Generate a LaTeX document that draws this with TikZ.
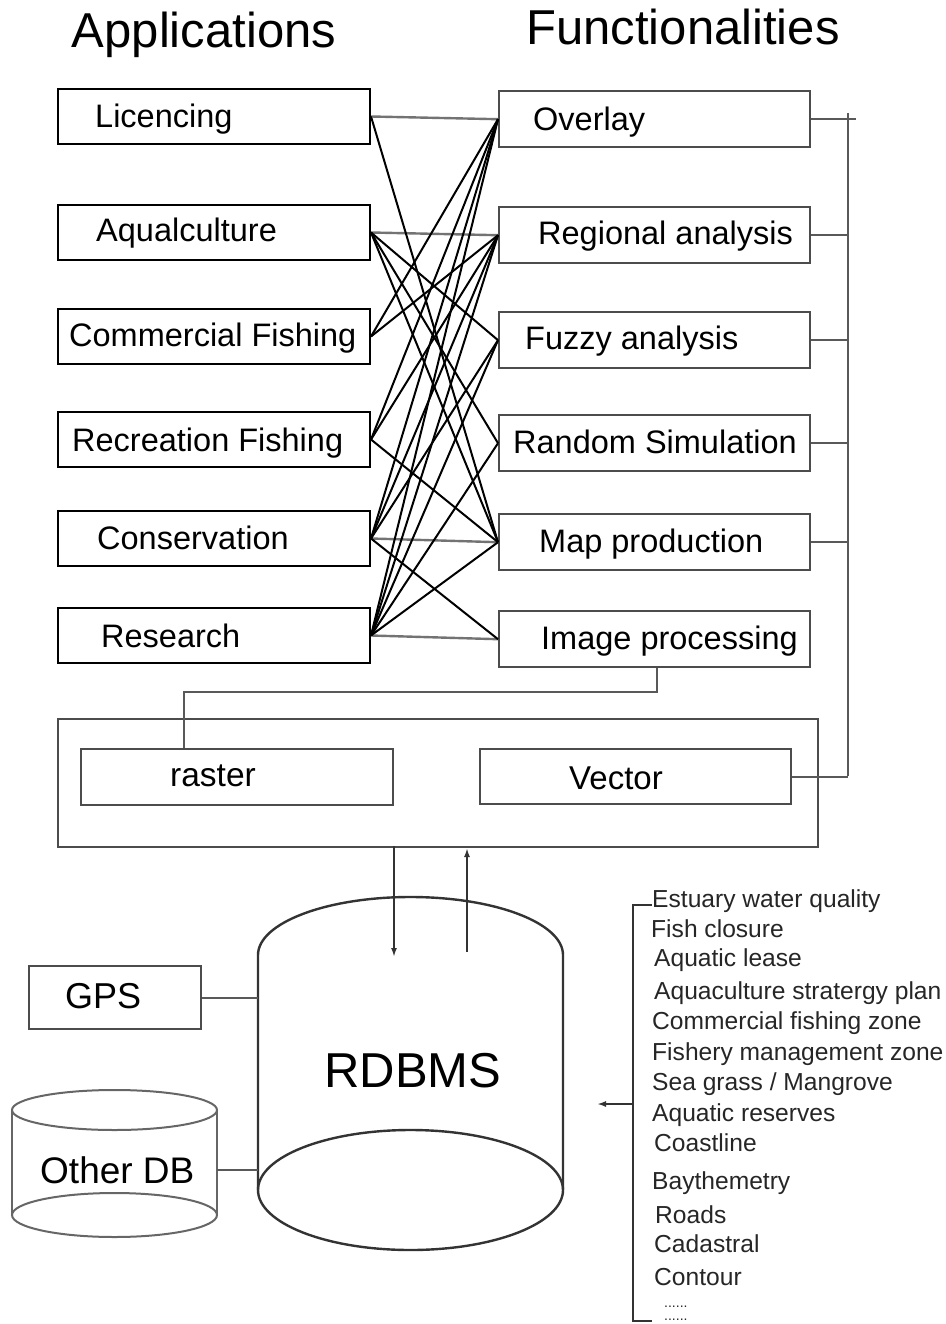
\documentclass[tikz,border=0pt]{standalone}
\usepackage{fontspec}
\setmainfont{Liberation Sans}
\usetikzlibrary{arrows.meta}
\begin{document}
\begin{tikzpicture}[x=1pt,y=-1pt,
  lbox/.style={draw=black, line width=2pt, minimum width=312pt, minimum height=55pt, anchor=north west, inner sep=0pt},
  rbox/.style={draw=black!70, line width=2.4pt, minimum width=311pt, minimum height=56pt, anchor=north west, inner sep=0pt},
  lbl/.style={anchor=base west, font=\fontsize{32.5}{32.5}\selectfont, inner sep=0pt},
  ttl/.style={anchor=base, font=\fontsize{49}{49}\selectfont, inner sep=0pt},
  itm/.style={anchor=base west, font=\fontsize{24.6}{24.6}\selectfont, inner sep=0pt, text=black!85},
  link/.style={line width=2pt, black},
  hlink/.style={line width=2.4pt, black!55},
  bus/.style={line width=2pt, black!65},
  arr/.style={line width=1.8pt, black!80, -{Latex[length=9pt,width=6pt]}}
]
\useasboundingbox (0,0) rectangle (945,1324);

% titles
\node[ttl] (tapp) at (204,48) {Applications};
\node[ttl] (tfun) at (683,45) {Functionalities};

% application boxes
\node[lbox] (lic) at (57,88) {};
\node[lbox] (aqu) at (57,204) {};
\node[lbox] (com) at (57,308) {};
\node[lbox] (rec) at (57,411) {};
\node[lbox] (con) at (57,510) {};
\node[lbox] (res) at (57,607) {};
\node[lbl] (tlic) at (95,128) {Licencing};
\node[lbl] (taqu) at (96,242) {Aqualculture};
\node[lbl] (tcom) at (69,346) {Commercial Fishing};
\node[lbl] (trec) at (72,451) {Recreation Fishing};
\node[lbl] (tcon) at (97,549) {Conservation};
\node[lbl] (tres) at (101,647) {Research};

% functionality boxes
\node[rbox] (ovl) at (498,90) {};
\node[rbox] (reg) at (498,206) {};
\node[rbox] (fuz) at (498,311) {};
\node[rbox] (ran) at (498,414) {};
\node[rbox] (map) at (498,513) {};
\node[rbox] (img) at (498,610) {};
\node[lbl] (tovl) at (533,131) {Overlay};
\node[lbl] (treg) at (538,245) {Regional analysis};
\node[lbl] (tfuz) at (525,349) {Fuzzy analysis};
\node[lbl] (tran) at (513,453) {Random Simulation};
\node[lbl] (tmap) at (539,552) {Map production};
\node[lbl] (timg) at (541,649) {Image processing};

% horizontal links
\draw[hlink] (lic.east) -- (ovl.west);
\draw[hlink] (aqu.east) -- (reg.west);
\draw[hlink] (con.east) -- (map.west);
\draw[hlink] (res.east) -- (img.west);

% crossing links
\draw[link] (lic.east) -- (map.west);
\draw[link] (aqu.east) -- (fuz.west);
\draw[link] (aqu.east) -- (ran.west);
\draw[link] (aqu.east) -- (map.west);
\draw[link] (com.east) -- (ovl.west);
\draw[link] (com.east) -- (reg.west);
\draw[link] (rec.east) -- (ovl.west);
\draw[link] (rec.east) -- (reg.west);
\draw[link] (rec.east) -- (map.west);
\draw[link] (con.east) -- (ovl.west);
\draw[link] (con.east) -- (reg.west);
\draw[link] (con.east) -- (fuz.west);
\draw[link] (con.east) -- (img.west);
\draw[link] (res.east) -- (ovl.west);
\draw[link] (res.east) -- (reg.west);
\draw[link] (res.east) -- (fuz.west);
\draw[link] (res.east) -- (ran.west);
\draw[link] (res.east) -- (map.west);

% data store
\node[draw=black!70, line width=2.4pt, minimum width=760pt, minimum height=128pt, anchor=north west, inner sep=0pt] (store) at (57,718) {};
\node[draw=black!70, line width=2.4pt, minimum width=312pt, minimum height=56pt, anchor=north west, inner sep=0pt] (ras) at (80,748) {};
\node[draw=black!70, line width=2.4pt, minimum width=311pt, minimum height=55pt, anchor=north west, inner sep=0pt] (vec) at (479,748) {};
\node[lbl, font=\fontsize{33.5}{33.5}\selectfont] (tras) at (170,786) {raster};
\node[lbl, font=\fontsize{33}{33}\selectfont] (tvec) at (569,789) {Vector};

% right bus
\coordinate (busT) at (848,113);
\coordinate (busE) at (856,118);
\coordinate (busB) at (848,776);
\draw[bus] (busT) -- (busB);
\draw[bus] (ovl.east) -- (ovl.east -| busE);
\draw[bus] (reg.east) -- (reg.east -| busT);
\draw[bus] (fuz.east) -- (fuz.east -| busT);
\draw[bus] (ran.east) -- (ran.east -| busT);
\draw[bus] (map.east) -- (map.east -| busT);
\draw[bus] (vec.east) -- (vec.east -| busT);

% image processing to raster
\coordinate (ipb) at (657,692);
\coordinate (rtop) at (184,748);
\draw[bus] (img.south -| ipb) -- (ipb) -- (ipb -| rtop) -- (rtop);

% arrows store <-> RDBMS
\coordinate (dA) at (394,846);
\coordinate (dB) at (394,957);
\coordinate (uA) at (467,952);
\coordinate (uB) at (467,848);
\draw[arr] (dA) -- (dB);
\draw[arr] (uA) -- (uB);

% RDBMS cylinder
\draw[line width=2.4pt, black!80] (258,1190) -- (258,955) arc[start angle=180, end angle=0, x radius=152.5pt, y radius=58pt] -- (563,1190);
\draw[line width=2.4pt, black!80] (410.5,1190) ellipse[x radius=152.5pt, y radius=60pt];
\node[font=\fontsize{49}{49}\selectfont, anchor=base, inner sep=0pt] (rdb) at (413,1087) {RDBMS};
\coordinate (cylL) at (258,995);

% GPS
\node[draw=black!70, line width=2.4pt, minimum width=172pt, minimum height=63pt, anchor=north west, inner sep=0pt] (gps) at (28,965) {};
\node[anchor=base west, font=\fontsize{36}{36}\selectfont, inner sep=0pt] (tgps) at (65,1008) {GPS};
\draw[bus] (gps.east) -- (gps.east -| cylL);

% Other DB
\draw[line width=2pt, black!60] (12,1110) -- (12,1215);
\draw[line width=2pt, black!60] (217,1110) -- (217,1215);
\draw[line width=2pt, black!60] (114.5,1110) ellipse[x radius=102.5pt, y radius=20pt];
\draw[line width=2pt, black!60] (114.5,1215) ellipse[x radius=102.5pt, y radius=22pt];
\node[anchor=base west, font=\fontsize{37}{37}\selectfont, inner sep=0pt] (todb) at (40,1183) {Other DB};
\coordinate (odbR) at (217,1170);
\draw[bus] (odbR) -- (odbR -| cylL);

% data list bracket
\coordinate (brT) at (633,905);
\coordinate (brB) at (633,1321);
\coordinate (brA) at (633,1104);
\coordinate (brH) at (597,1104);
\draw[line width=2pt, black!80] (652,905) -- (brT) -- (brB) -- (652,1321);
\draw[arr] (brA) -- (brH);

\node[itm] (i1) at (652,907) {Estuary water quality};
\node[itm] (i2) at (651,937) {Fish closure};
\node[itm] (i3) at (654,966) {Aquatic lease};
\node[itm] (i4) at (654,999) {Aquaculture stratergy plan};
\node[itm] (i5) at (652,1029) {Commercial fishing zone};
\node[itm] (i6) at (652,1060) {Fishery management zone};
\node[itm] (i7) at (652,1090) {Sea grass / Mangrove};
\node[itm] (i8) at (652,1121) {Aquatic reserves};
\node[itm] (i9) at (654,1151) {Coastline};
\node[itm] (i10) at (652,1189) {Baythemetry};
\node[itm] (i11) at (655,1223) {Roads};
\node[itm] (i12) at (654,1252) {Cadastral};
\node[itm] (i13) at (654,1285) {Contour};
\node[itm, font=\fontsize{14}{14}\selectfont] (i14) at (664,1307) {......};
\node[itm, font=\fontsize{14}{14}\selectfont] (i15) at (664,1320) {......};
\end{tikzpicture}
\end{document}
